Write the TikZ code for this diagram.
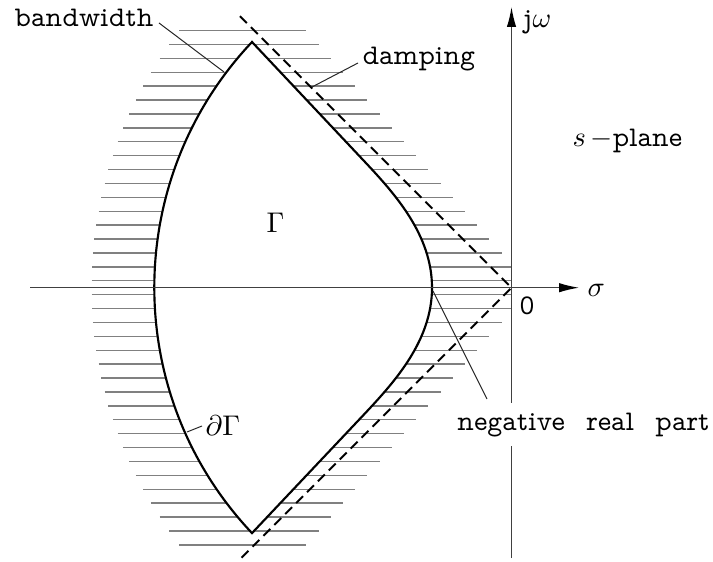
\documentclass[tikz,border=0pt]{standalone}
\usepackage{fontspec}
\newfontfamily\vtt{lmmonoprop10-regular.otf}
\usetikzlibrary{arrows.meta}
\tikzset{
  hatch/.style={draw=black!50, line width=0.5bp},
  contour/.style={draw=black, line width=0.75bp, line join=miter},
  damp/.style={draw=black, line width=0.7bp, dash pattern=on 3.4bp off 2bp},
  axis/.style={draw=black!75, line width=0.45bp},
  leader/.style={draw=black!85, line width=0.35bp},
  lbl/.style={inner sep=0pt, anchor=base west, font=\vtt},
  tip/.style={-{Latex[length=7bp,width=3.3bp,black]}}
}
\begin{document}
\begin{tikzpicture}[x=0.35bp,y=-0.35bp]
\useasboundingbox (0,0) rectangle (713,562);
% hatching
\foreach \k in {0,...,18}{
  \pgfmathsetmacro\dy{6.95+13.9*\k}
  \pgfmathsetmacro\xl{511.5-100*sqrt(17.64-(\dy/100)^2)}
  \pgfmathsetmacro\xr{min(511.5,532.1-0.878*\dy)}
  \draw[hatch] (\xl,287.7-\dy) -- (\xr,287.7-\dy);
  \draw[hatch] (\xl,287.7+\dy) -- (\xr,287.7+\dy);
}
% region Gamma
\coordinate (O) at (511.5,287.7);
\coordinate (T) at (252,42);
\coordinate (B) at (252,533.4);
\coordinate (R) at (432,287.7);
\coordinate (RB) at (365,413.4);
\coordinate (RT) at (365,162);
\path[fill=white] (T) arc[start angle=223.4,end angle=136.6,radius=357.4] -- (RB)
  .. controls (395,381.4) and (432,340.4) .. (R)
  .. controls (432,235) and (395,194) .. (RT) -- cycle;
\draw[contour] (T) arc[start angle=223.4,end angle=136.6,radius=357.4] -- (RB)
  .. controls (395,381.4) and (432,340.4) .. (R)
  .. controls (432,235) and (395,194) .. (RT) -- cycle;
% damping lines
\coordinate (DT) at (240,16.2);
\coordinate (DB) at (240,559.2);
\draw[damp] (DT) -- (O) -- (DB);
% axes
\coordinate (XL) at (30,287.7);
\coordinate (XR) at (579,287.7);
\coordinate (YB) at (511.5,558);
\coordinate (YT) at (511.5,7);
\draw[axis,tip] (XL) -- (XR);
\draw[axis,tip] (YB) -- (YT);
% labels
\node[lbl] (bw) at (14,26.5) {bandwidth};
\coordinate (bwA) at (159,23);
\coordinate (bwB) at (224,72);
\draw[leader] (bwA) -- (bwB);
\node[lbl] (dmp) at (362,65) {damping};
\coordinate (dmpA) at (358,63);
\coordinate (dmpB) at (312,87);
\draw[leader] (dmpA) -- (dmpB);
\node[lbl] (jw) at (523,28) {j$\omega$};
\node[lbl] (sp) at (572,146.5) {$s\,{-}$plane};
\node[lbl] (sig) at (587,296.5) {$\sigma$};
\node[lbl] (zero) at (519,315) {0};
\node[lbl] (G) at (266,233) {$\Gamma$};
\node[lbl] (dG) at (205,435) {$\partial\Gamma$};
\coordinate (dGA) at (202,426);
\coordinate (dGB) at (187,432);
\draw[leader] (dGA) -- (dGB);
\coordinate (nrA) at (433,291);
\coordinate (nrB) at (487,399);
\draw[leader] (nrA) -- (nrB);
\node[lbl, fill=white, inner xsep=1bp, inner ysep=3.3bp] (nr) at (454,430) {negative\hspace{4bp} real\hspace{4bp} part};
\end{tikzpicture}
\end{document}
